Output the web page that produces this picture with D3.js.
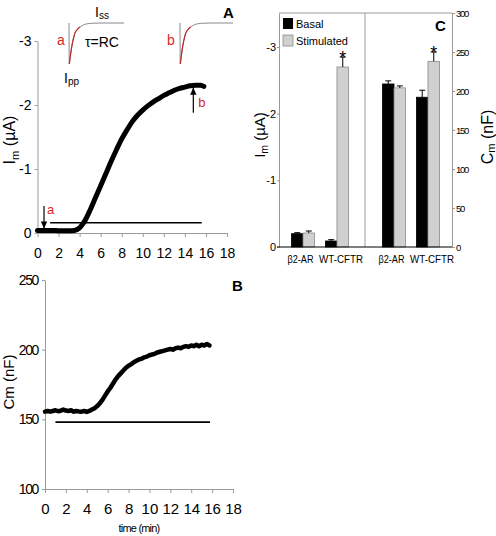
<!DOCTYPE html>
<html><head><meta charset="utf-8">
<script src="https://cdn.jsdelivr.net/npm/d3@7"></script>
<style>body{margin:0;background:#fff} text{font-family:"Liberation Sans",Arial,sans-serif;fill:#000}</style>
</head><body><svg id="c" width="496" height="536"></svg>
<script>
// ---------- DATA ----------
const timeA = [0,0.5,1,1.5,2,2.5,3,3.5,4,4.5,5,5.5,6,6.5,7,7.5,8,8.5,9,9.5,10,10.5,11,11.5,12,12.5,13,13.5,14,14.5,15,15.5,15.8];
const imA   = [-0.04,-0.04,-0.04,-0.04,-0.035,-0.035,-0.035,-0.04,-0.08,-0.19,-0.36,-0.55,-0.74,-0.93,-1.12,-1.3,-1.47,-1.61,-1.74,-1.84,-1.92,-1.99,-2.05,-2.1,-2.15,-2.19,-2.23,-2.26,-2.28,-2.3,-2.31,-2.31,-2.29];
const timeB = [0,0.25,0.5,0.75,1,1.25,1.5,1.75,2,2.25,2.5,2.75,3,3.25,3.5,3.75,4,4.25,4.5,4.75,5,5.25,5.5,5.75,6,6.25,6.5,6.75,7,7.25,7.5,7.75,8,8.25,8.5,8.75,9,9.25,9.5,9.75,10,10.25,10.5,10.75,11,11.25,11.5,11.75,12,12.25,12.5,12.75,13,13.25,13.5,13.75,14,14.25,14.5,14.75,15,15.25,15.5,15.75];
const cmB   = [155.5,156,155.5,156,156.5,155.8,156.2,157,156.3,156,156.5,155.5,156,155.7,155.5,156,155.3,156,157,158,159.5,161.5,164,167,170,172.5,175.5,178.5,181,183,185,187,188.5,189.5,191,192,193,193.5,194.5,195,196,196.5,197,198,198.5,199,199.5,200,200.5,200,201,201.5,201,202,202.5,202,203,202.5,203.5,202.5,203.5,203,204,203];
const stimTimes = [1.2, 15.6];
const stimLevelA = -0.16;
const stimTimesB = [1.0, 15.8];
const stimLevelB = 148;
const insetT = [0,0.005,0.02,0.04,0.055,0.08,0.11,0.15,0.2,0.26,0.33,0.45,0.6,1];
const insetV = [0,1,0.85,0.66,0.54,0.38,0.24,0.16,0.1,0.05,0.02,0.005,0,0];
const groups = ["β2-AR","WT-CFTR"];
const conditions = ["Basal","Stimulated"];
const imMean = {Basal:[-0.20,-0.09], Stimulated:[-0.21,-2.70]};
const imErr  = {Basal:[0.015,0.02], Stimulated:[0.03,0.15]};
const cmMean = {Basal:[209,192], Stimulated:[204,238]};
const cmErr  = {Basal:[4,9], Stimulated:[2.5,12]};
const timeTicks = [0,2,4,6,8,10,12,14,16,18];
const imTicksA = [0,-1,-2,-3];
const cmTicksB = [100,150,200,250];
const imTicksC = [0,-1,-2,-3];
const cmTicksC = [0,50,100,150,200,250,300];

const svg = d3.select("#c");
const AX = "#9a9a9a", RED = "#d8262a";
function styleAxis(g, fs, ls){
  g.select(".domain").attr("stroke", AX);
  g.selectAll(".tick line").attr("stroke", AX);
  g.selectAll(".tick text").attr("font-size", fs).attr("letter-spacing", ls||0)
    .attr("font-family","Liberation Sans, Arial, sans-serif").attr("fill","#000");
}
function rotLabel(x, y, main, sub, rest, fs, subDy){
  const t = svg.append("text").attr("transform",`translate(${x},${y}) rotate(-90)`)
    .attr("text-anchor","middle").attr("font-size", fs);
  t.append("tspan").text(main);
  if (sub) t.append("tspan").attr("font-size", fs*0.7).attr("dy", subDy).text(sub);
  t.append("tspan").attr("dy", sub ? -subDy : 0).text(rest);
}

// ---------- PANEL A ----------
const xA = d3.scaleLinear([0,18],[37.5,227]);
const yA = d3.scaleLinear([0,-3],[233,41]);
svg.append("g").attr("transform","translate(0,233)")
  .call(d3.axisBottom(xA).tickValues(timeTicks).tickSize(4).tickSizeOuter(0).tickPadding(11).tickFormat(d=>String(d)))
  .call(g=>styleAxis(g,14));
svg.append("g").attr("transform","translate(37.5,0)")
  .call(d3.axisLeft(yA).tickValues(imTicksA).tickSize(3).tickSizeOuter(0).tickPadding(3).tickFormat(d=>String(d)))
  .call(g=>styleAxis(g,14));
rotLabel(15, 140, "I", "m", " (µA)", 16, 4);
svg.append("line").attr("x1",xA(stimTimes[0])).attr("x2",xA(stimTimes[1]))
  .attr("y1",yA(stimLevelA)).attr("y2",yA(stimLevelA)).attr("stroke","#000").attr("stroke-width",1.6);
svg.append("path").datum(timeA.map((t,i)=>[t,imA[i]]))
  .attr("d", d3.line().x(d=>xA(d[0])).y(d=>yA(d[1])).curve(d3.curveMonotoneX))
  .attr("fill","none").attr("stroke","#000").attr("stroke-width",5).attr("stroke-linecap","round");
// arrows
function arrow(x, y1, y2){
  svg.append("line").attr("x1",x).attr("x2",x).attr("y1",y1).attr("y2",y2).attr("stroke","#000").attr("stroke-width",1.2);
  const dir = Math.sign(y2-y1);
  svg.append("path").attr("d",`M${x-3.2},${y2-dir*7}L${x},${y2}L${x+3.2},${y2-dir*7}Z`).attr("fill","#000");
}
arrow(xA(0.62), yA(-0.42), yA(-0.07));
svg.append("text").attr("x",xA(0.62)+3).attr("y",yA(-0.3)).attr("font-size",13).style("fill",RED).text("a");
arrow(xA(14.8), yA(-1.88), yA(-2.27));
svg.append("text").attr("x",xA(14.8)+5).attr("y",yA(-1.97)).attr("font-size",13).style("fill",RED).text("b");
// insets
function inset(x0, x1){
  const xs = d3.scaleLinear([0,1],[x0,x1]);
  const ys = d3.scaleLinear([0,1],[23,64]);
  const pts = insetT.map((t,i)=>[t,insetV[i]]);
  const ln = d3.line().x(d=>xs(d[0])).y(d=>ys(d[1])).curve(d3.curveMonotoneX);
  svg.append("path").datum(pts).attr("d",ln).attr("fill","none").attr("stroke","#888").attr("stroke-width",1);
  svg.append("path").datum(pts.filter(d=>d[0]>=0.005 && d[0]<=0.2)).attr("d",ln).attr("fill","none").attr("stroke","#c0282a").attr("stroke-width",1.2);
}
inset(69,124);
inset(180,233);
svg.append("text").attr("x",57).attr("y",45).attr("font-size",14).style("fill",RED).text("a");
svg.append("text").attr("x",167).attr("y",45).attr("font-size",14).style("fill",RED).text("b");
svg.append("text").attr("x",85).attr("y",47).attr("font-size",14).text("τ=RC");
(function(){
  const t = svg.append("text").attr("x",95).attr("y",17).attr("font-size",14);
  t.append("tspan").text("I"); t.append("tspan").attr("font-size",10).attr("dy",2).text("ss");
  const u = svg.append("text").attr("x",64).attr("y",83).attr("font-size",14);
  u.append("tspan").text("I"); u.append("tspan").attr("font-size",10).attr("dy",2).text("pp");
})();
svg.append("text").attr("x",223).attr("y",18).attr("font-size",15).attr("font-weight","bold").text("A");

// ---------- PANEL B ----------
const xB = d3.scaleLinear([0,18],[45,233]);
const yB = d3.scaleLinear([100,250],[489,280]);
svg.append("g").attr("transform","translate(0,489)")
  .call(d3.axisBottom(xB).tickValues(timeTicks).tickSize(4).tickSizeOuter(0).tickPadding(10).tickFormat(d=>String(d)))
  .call(g=>styleAxis(g,15));
svg.append("g").attr("transform","translate(45,0)")
  .call(d3.axisLeft(yB).tickValues(cmTicksB).tickSize(3).tickSizeOuter(0).tickPadding(4).tickFormat(d=>String(d)))
  .call(g=>styleAxis(g,14,-1.4));
rotLabel(14, 382, "Cm (nF)", null, "", 15, 0);
svg.append("text").attr("x",xB(9)).attr("y",532).attr("text-anchor","middle").attr("font-size",11).attr("letter-spacing",-0.8).text("time (min)");
svg.append("line").attr("x1",xB(stimTimesB[0])).attr("x2",xB(stimTimesB[1]))
  .attr("y1",yB(stimLevelB)).attr("y2",yB(stimLevelB)).attr("stroke","#000").attr("stroke-width",1.6);
svg.append("path").datum(timeB.map((t,i)=>[t,cmB[i]]))
  .attr("d", d3.line().x(d=>xB(d[0])).y(d=>yB(d[1])))
  .attr("fill","none").attr("stroke","#000").attr("stroke-width",4.5).attr("stroke-linejoin","round").attr("stroke-linecap","round");
svg.append("text").attr("x",232).attr("y",291).attr("font-size",15).attr("font-weight","bold").text("B");

// ---------- PANEL C ----------
const yCL = d3.scaleLinear([0,-3.51],[247,13]);
const yCR = d3.scaleLinear([0,300],[247,13]);
const gL = d3.scaleBand(groups,[284,356]).paddingInner(0.32).paddingOuter(0.22);
const gR = d3.scaleBand(groups,[375,447]).paddingInner(0.32).paddingOuter(0.22);
const sub = d3.scaleBand(conditions,[0,gL.bandwidth()]);
const fillC = {Basal:"#000", Stimulated:"#d0d0d0"};
const strokeC = {Basal:"#000", Stimulated:"#8a8a8a"};
function bars(band, y, mean, err){
  conditions.forEach(c=>{
    groups.forEach((g,i)=>{
      const x = band(g)+sub(c), w = sub.bandwidth();
      const v = mean[c][i], e = err[c][i];
      const sgn = Math.sign(v);
      svg.append("rect").attr("x",x).attr("width",w).attr("y",Math.min(y(v),y(0))).attr("height",Math.abs(y(0)-y(v)))
        .attr("fill",fillC[c]).attr("stroke",strokeC[c]).attr("stroke-width",0.8);
      const cx = x+w/2, yt = y(v+sgn*e);
      svg.append("line").attr("x1",cx).attr("x2",cx).attr("y1",y(v)).attr("y2",yt).attr("stroke","#000").attr("stroke-width",1);
      svg.append("line").attr("x1",cx-3).attr("x2",cx+3).attr("y1",yt).attr("y2",yt).attr("stroke","#000").attr("stroke-width",1);
    });
  });
}
bars(gL, yCL, imMean, imErr);
bars(gR, yCR, cmMean, cmErr);
// asterisks
svg.append("text").attr("x",gL("WT-CFTR")+sub("Stimulated")+sub.bandwidth()/2).attr("y",yCL(imMean.Stimulated[1]-imErr.Stimulated[1])+7)
  .attr("text-anchor","middle").attr("font-size",18).text("*");
svg.append("text").attr("x",gR("WT-CFTR")+sub("Stimulated")+sub.bandwidth()/2).attr("y",yCR(cmMean.Stimulated[1]+cmErr.Stimulated[1])+7)
  .attr("text-anchor","middle").attr("font-size",18).text("*");
// frame
svg.append("line").attr("x1",279).attr("x2",452).attr("y1",13).attr("y2",13).attr("stroke",AX);
svg.append("line").attr("x1",365).attr("x2",365).attr("y1",13).attr("y2",247).attr("stroke",AX);
svg.append("g").attr("transform","translate(279,0)")
  .call(d3.axisLeft(yCL).tickValues(imTicksC).tickSize(2).tickSizeOuter(0).tickPadding(1).tickFormat(d=>String(d)))
  .call(g=>styleAxis(g,11));
svg.append("g").attr("transform","translate(452,0)")
  .call(d3.axisRight(yCR).tickValues(cmTicksC).tickSize(3).tickSizeOuter(0).tickPadding(1).tickFormat(d=>String(d)))
  .call(g=>styleAxis(g,9.5,-1.3));
svg.append("line").attr("x1",277).attr("x2",452).attr("y1",247).attr("y2",247).attr("stroke","#000").attr("stroke-width",1.2);
const labelShift = [-2.5, 4], labelWidth = [26, 44];
[gL,gR].forEach(b=>groups.forEach((g,i)=>{
  svg.append("text").attr("x",b(g)+b.bandwidth()/2+labelShift[i]).attr("y",263).attr("text-anchor","middle")
    .attr("font-size",10.5).attr("textLength",labelWidth[i]).attr("lengthAdjust","spacingAndGlyphs").text(g);
}));
rotLabel(265, 135, "I", "m", " (µA)", 15, 3);
rotLabel(493, 137, "C", "m", " (nF)", 16, 2);
// legend
svg.append("rect").attr("x",283).attr("y",18).attr("width",10).attr("height",11).attr("fill","#000");
svg.append("rect").attr("x",283).attr("y",35).attr("width",10).attr("height",11).attr("fill","#d0d0d0").attr("stroke","#8a8a8a").attr("stroke-width",0.8);
svg.append("text").attr("x",296).attr("y",28).attr("font-size",11).text("Basal");
svg.append("text").attr("x",296).attr("y",45).attr("font-size",11).text("Stimulated");
svg.append("text").attr("x",435).attr("y",31).attr("font-size",15).attr("font-weight","bold").text("C");
</script></body></html>
